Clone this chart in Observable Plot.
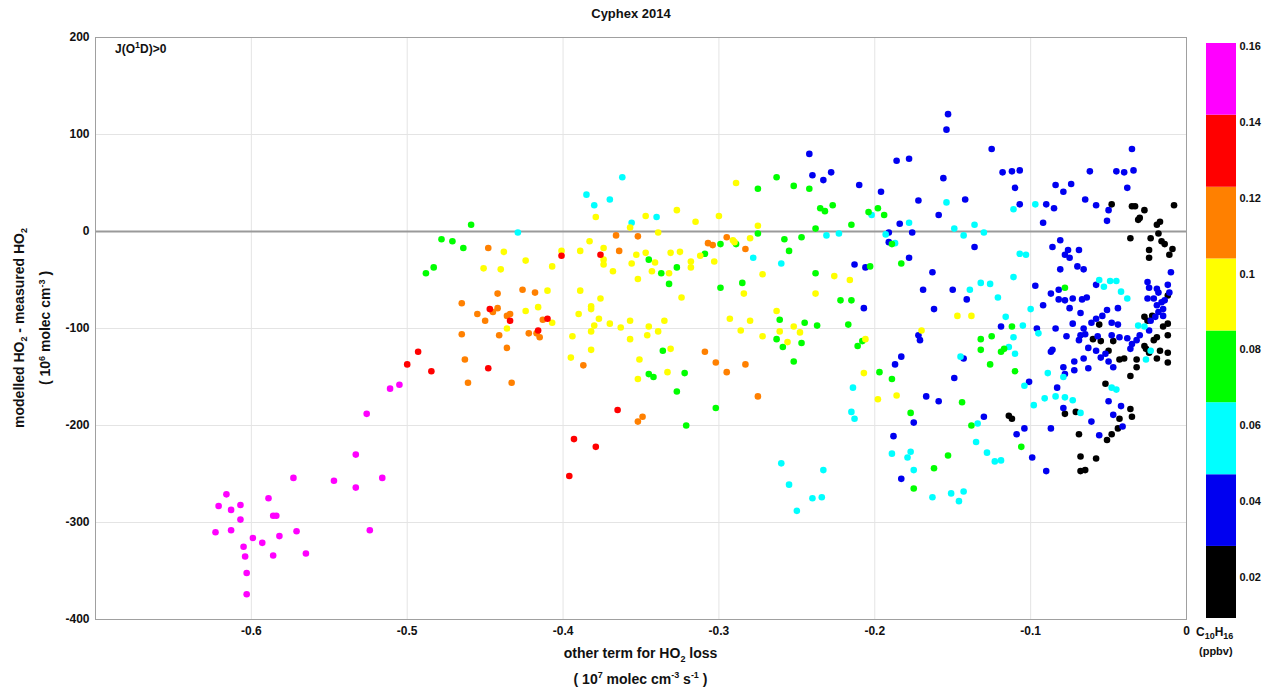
<!DOCTYPE html>
<html><head><meta charset="utf-8">
<script src="https://cdn.jsdelivr.net/npm/d3@7"></script>
<script src="https://cdn.jsdelivr.net/npm/@observablehq/plot@0.6"></script>
<style>
body{margin:0;background:#fff;font-family:"Liberation Sans",Arial,sans-serif;}
#wrap{position:relative;width:1262px;height:690px;overflow:hidden;}
.lbl{position:absolute;font-weight:bold;color:#111;white-space:nowrap;font-size:13px;}
.lbl sub,.lbl sup{font-size:9px;}
svg{overflow:visible}
</style></head><body>
<div id="wrap"></div>
<script>
// ---- data ----
const xTicks = [-0.6,-0.5,-0.4,-0.3,-0.2,-0.1,0];
const yTicks = [-400,-300,-200,-100,0,100,200];
const cbTicks = [0.02,0.04,0.06,0.08,0.1,0.12,0.14,0.16];
const cbDomain = [0.0092,0.1608];
const cbThresholds = [0.0282,0.0471,0.0661,0.0850,0.1040,0.1229,0.1419];
const cbColors = ["#000000","#0000f0","#00ffff","#00ff00","#ffff00","#ff8000","#ff0000","#ff00ff"];
const groupConc = [0.02,0.038,0.057,0.076,0.095,0.113,0.132,0.151];

const blackPts = [[-0.114,-190],[-0.112,-193],
[-0.048,28],[-0.035,26],[-0.033,26],[-0.027,22],[-0.008,27],[-0.031,12],[-0.030,14],[-0.019,7],[-0.017,10],[-0.018,-2],[-0.036,-7],[-0.023,-7],[-0.016,-10],[-0.014,-13],[-0.024,-19],[-0.009,-18],[-0.024,-27],[-0.011,-24],[-0.012,-66],[-0.027,-88],[-0.025,-92],[-0.022,-87],[-0.056,-96],[-0.015,-98],[-0.012,-95],
[-0.060,-111],[-0.055,-113],[-0.047,-113],[-0.050,-123],[-0.043,-132],[-0.040,-131],[-0.032,-132],[-0.032,-140],[-0.036,-149],[-0.027,-118],[-0.026,-121],[-0.024,-125],[-0.021,-112],[-0.019,-131],[-0.017,-123],[-0.012,-125],[-0.012,-135],[-0.012,-107],[-0.019,-109],[-0.052,-157],[-0.078,-188],[-0.071,-186],[-0.036,-183],[-0.035,-191],[-0.043,-193],[-0.044,-203],[-0.048,-209],[-0.051,-215],[-0.069,-209],[-0.068,-232],[-0.058,-234],[-0.068,-247],[-0.065,-246]];

const bluePts = [[-0.242,80],[-0.240,58],[-0.233,53],[-0.228,61],[-0.210,48],[-0.213,-34],
[-0.153,121],[-0.154,105],[-0.125,85],[-0.118,61],[-0.112,62],[-0.107,63],[-0.110,45],[-0.107,28],[-0.186,73],[-0.178,75],[-0.196,41],[-0.172,32],[-0.156,55],[-0.142,33],[-0.159,17],[-0.184,8],[-0.191,-1],[-0.176,-1],[-0.191,-11],[-0.136,-16],[-0.178,-27],[-0.206,-37],[-0.163,-42],[-0.169,-60],[-0.150,-60],[-0.141,-70],[-0.207,-79],[-0.162,-80],[-0.097,-56],[-0.119,-98],[-0.096,-100],
[-0.172,-107],[-0.171,-112],[-0.183,-129],[-0.187,-137],[-0.143,-131],[-0.149,-151],[-0.167,-170],[-0.159,-175],[-0.130,-191],[-0.175,-197],[-0.188,-211],[-0.104,-203],[-0.109,-209],[-0.099,-233],[-0.183,-255],[-0.101,-155],
[-0.084,48],[-0.079,41],[-0.074,49],[-0.090,28],[-0.085,24],[-0.065,33],[-0.058,27],[-0.050,22],[-0.051,11],[-0.092,9],[-0.081,-9],[-0.086,-16],[-0.076,-19],[-0.069,-19],[-0.078,-24],[-0.075,-27],[-0.081,-39],[-0.070,-36],[-0.066,-39],[-0.082,-60],[-0.087,-64],[-0.082,-70],[-0.078,-71],[-0.073,-69],[-0.067,-70],[-0.064,-68],[-0.058,-55],[-0.092,-76],[-0.075,-79],[-0.068,-84],[-0.061,-94],[-0.058,-90],[-0.054,-87],[-0.051,-81],[-0.044,-79],[-0.048,-94],[-0.044,-96],[-0.073,-95],[-0.084,-100],[-0.066,-100],
[-0.025,-52],[-0.024,-58],[-0.019,-59],[-0.018,-63],[-0.012,-55],[-0.011,-63],[-0.010,-42],[-0.025,-69],[-0.021,-69],[-0.019,-76],[-0.016,-73],[-0.014,-71],[-0.015,-80],[-0.018,-83],[-0.015,-87],[-0.020,-88],[-0.023,-92],
[-0.077,-108],[-0.068,-107],[-0.065,-106],[-0.069,-112],[-0.086,-122],[-0.087,-124],[-0.063,-120],[-0.058,-123],[-0.052,-126],[-0.055,-130],[-0.072,-134],[-0.066,-131],[-0.079,-140],[-0.072,-143],[-0.078,-147],[-0.063,-141],[-0.050,-134],[-0.047,-140],[-0.057,-108],[-0.048,-107],[-0.043,-109],[-0.038,-110],[-0.035,-116],[-0.032,-112],[-0.030,-107],[-0.036,-121],[-0.024,-102],[-0.083,-161],[-0.050,-175],[-0.042,-180],[-0.047,-189],[-0.041,-201],[-0.061,-196],[-0.056,-210],[-0.087,-203],[-0.090,-247],[-0.079,-182],
[-0.035,85],[-0.045,62],[-0.040,61],[-0.034,63],[-0.038,45],[-0.062,62]];

const cyanPts = [[-0.429,-1],[-0.385,38],[-0.380,27],[-0.370,33],[-0.362,56],[-0.356,9],
[-0.340,15],[-0.231,-4],[-0.223,-2],[-0.278,-27],[-0.260,-33],
[-0.214,-161],[-0.215,-186],[-0.213,-193],
[-0.260,-239],[-0.255,-261],[-0.250,-288],[-0.240,-275],[-0.234,-274],[-0.233,-246],
[-0.154,30],[-0.111,23],[-0.097,28],[-0.178,9],[-0.202,17],[-0.193,-3],[-0.187,-12],[-0.149,3],[-0.143,-4],[-0.136,7],[-0.130,-1],[-0.107,-23],[-0.103,-24],[-0.111,-47],[-0.132,-53],[-0.126,-54],[-0.139,-60],[-0.121,-68],[-0.100,-80],[-0.116,-88],[-0.105,-97],
[-0.111,-109],[-0.114,-119],[-0.110,-126],[-0.145,-129],[-0.104,-159],[-0.098,-179],[-0.134,-198],[-0.135,-217],[-0.128,-228],[-0.123,-237],[-0.119,-236],[-0.189,-229],[-0.179,-233],[-0.177,-227],[-0.175,-246],[-0.163,-274],[-0.151,-270],[-0.146,-278],[-0.143,-268],
[-0.056,-50],[-0.053,-57],[-0.049,-51],[-0.045,-51],[-0.042,-62],[-0.038,-69],[-0.031,-97],[-0.027,-98],
[-0.095,-105],[-0.089,-146],[-0.079,-150],[-0.091,-172],[-0.084,-170],[-0.078,-171],[-0.073,-174],[-0.068,-187],[-0.048,-161],[-0.045,-163],[-0.023,-123],[-0.026,-132]];

const greenPts = [[-0.459,7],[-0.478,-8],[-0.471,-10],[-0.464,-17],[-0.483,-37],[-0.488,-43],
[-0.263,56],[-0.252,47],[-0.242,44],[-0.275,44],[-0.235,24],[-0.232,21],[-0.227,27],[-0.215,7],[-0.238,3],[-0.275,-2],[-0.258,-8],[-0.247,-6],[-0.255,-20],[-0.299,-13],[-0.289,-13],[-0.309,-23],[-0.345,-29],[-0.337,-43],[-0.327,-37],[-0.332,-54],[-0.299,-58],[-0.285,-53],[-0.238,-43],[-0.222,-71],[-0.215,-71],[-0.261,-91],[-0.245,-94],[-0.237,-97],[-0.217,-96],[-0.263,-111],
[-0.336,-123],[-0.259,-119],[-0.247,-115],[-0.252,-134],[-0.345,-147],[-0.342,-150],[-0.322,-146],[-0.327,-165],[-0.302,-182],[-0.321,-200],[-0.211,-118],
[-0.204,20],[-0.198,24],[-0.194,17],[-0.189,-13],[-0.203,-36],[-0.183,-33],[-0.112,-98],
[-0.208,-113],[-0.132,-111],[-0.125,-108],[-0.132,-122],[-0.119,-124],[-0.117,-121],[-0.126,-137],[-0.110,-144],[-0.197,-145],[-0.189,-152],[-0.144,-176],[-0.177,-187],[-0.138,-200],[-0.106,-222],[-0.153,-231],[-0.162,-244],[-0.175,-265],
[-0.078,-58]];

const yellowPts = [[-0.438,-21],[-0.451,-38],[-0.440,-39],[-0.424,-30],[-0.407,-36],[-0.410,-61],[-0.416,-78],[-0.424,-82],[-0.436,-100],[-0.407,-94],[-0.401,-20],[-0.383,-10],[-0.389,-20],[-0.374,-17],[-0.374,-29],[-0.374,-34],[-0.368,-41],[-0.356,-33],[-0.353,-24],[-0.352,-49],[-0.389,-61],[-0.376,-69],[-0.382,-77],[-0.382,-80],[-0.390,-85],[-0.377,-90],[-0.380,-97],[-0.370,-95],[-0.363,-99],[-0.357,-92],[-0.382,-103],[-0.394,-108],[-0.379,15],[-0.357,4],
[-0.357,-111],[-0.382,-122],[-0.395,-130],[-0.351,-132],[-0.352,-152],
[-0.327,22],[-0.347,16],[-0.315,10],[-0.300,16],[-0.289,50],[-0.275,6],[-0.280,-7],[-0.291,-9],[-0.290,-11],[-0.339,-1],[-0.347,-22],[-0.341,-32],[-0.343,-41],[-0.331,-22],[-0.325,-21],[-0.318,-31],[-0.318,-37],[-0.312,-25],[-0.303,-31],[-0.332,-43],[-0.324,-68],[-0.272,-44],[-0.284,-64],[-0.226,-46],[-0.216,-50],[-0.238,-64],[-0.263,-82],[-0.293,-90],[-0.280,-92],[-0.335,-92],[-0.345,-98],[-0.339,-103],[-0.346,-107],[-0.286,-102],[-0.272,-108],[-0.252,-98],[-0.248,-104],
[-0.261,-103],[-0.256,-114],[-0.331,-121],[-0.333,-145],
[-0.147,-87],[-0.138,-87],[-0.170,-102],
[-0.206,-111],[-0.207,-146],[-0.198,-173],[-0.186,-169]];

const orangePts = [[-0.448,-17],[-0.442,-64],[-0.426,-60],[-0.418,-63],[-0.465,-74],[-0.455,-85],[-0.450,-92],[-0.445,-83],[-0.442,-79],[-0.436,-87],[-0.434,-85],[-0.413,-91],[-0.465,-106],[-0.441,-107],[-0.422,-105],[-0.417,-105],[-0.415,-109],[-0.366,-4],[-0.364,-20],[-0.352,-5],
[-0.463,-132],[-0.461,-156],[-0.436,-120],[-0.433,-156],[-0.387,-138],[-0.352,-196],
[-0.307,-12],[-0.304,-14],[-0.295,-6],[-0.283,-18],
[-0.309,-124],[-0.302,-135],[-0.295,-145],[-0.283,-137],[-0.275,-170],[-0.349,-191]];

const redPts = [[-0.500,-137],[-0.493,-124],[-0.4845,-144],[-0.448,-141],[-0.365,-184],[-0.393,-214],[-0.379,-222],[-0.396,-252],[-0.401,-25],[-0.376,-24],[-0.447,-80],[-0.434,-92],[-0.410,-90],[-0.416,-102]];

const magentaPts = [[-0.616,-271],[-0.621,-283],[-0.613,-287],[-0.607,-282],[-0.607,-297],[-0.623,-310],[-0.613,-308],[-0.589,-275],[-0.586,-293],[-0.584,-293],[-0.573,-254],[-0.547,-257],[-0.533,-230],[-0.533,-264],[-0.516,-254],[-0.524,-308],[-0.571,-309],[-0.582,-314],[-0.599,-316],[-0.593,-321],[-0.605,-325],[-0.604,-335],[-0.586,-334],[-0.565,-332],[-0.603,-352],[-0.603,-374],[-0.526,-188],[-0.511,-162],[-0.505,-158]];

const groupPoints = [blackPts,bluePts,cyanPts,greenPts,yellowPts,orangePts,redPts,magentaPts];

// ---- build table ----
const data = groupPoints.flatMap((pts,i)=>pts.map(([x,y])=>({x,y,c:groupConc[i]})));
const cbBins = d3.range(cbColors.length).map(i=>({
  lo: i===0?cbDomain[0]:cbThresholds[i-1],
  hi: i===cbColors.length-1?cbDomain[1]:cbThresholds[i],
  c: groupConc[i]}));
const colorScale = {type:"threshold", domain:cbThresholds, range:cbColors};

const wrap = document.getElementById("wrap");

const main = Plot.plot({
  width:1262, height:690,
  marginLeft:95, marginRight:76, marginTop:37, marginBottom:71,
  style:{fontFamily:"Liberation Sans, Arial, sans-serif", fontWeight:"bold", fontSize:"12px", color:"#111", background:"transparent"},
  x:{domain:[-0.7,0]},
  y:{domain:[-400,200]},
  color: colorScale,
  marks:[
    Plot.gridX(xTicks,{stroke:"#e4e4e4", strokeOpacity:1}),
    Plot.gridY(yTicks,{stroke:"#e4e4e4", strokeOpacity:1}),
    Plot.ruleY([0],{stroke:"#9a9a9a", strokeWidth:2}),
    Plot.dot(data,{x:"x", y:"y", fill:"c", r:3.3}),
    Plot.frame({stroke:"#a0a0a0"}),
    Plot.axisX(xTicks,{tickSize:0, tickPadding:7, label:null, fontSize:12, fontWeight:"bold",
      tickFormat:d=>d===0?"0":d.toFixed(1)}),
    Plot.axisY(yTicks,{tickSize:0, tickPadding:6, label:null, fontSize:12, fontWeight:"bold",
      tickFormat:d=>d.toFixed(0)})
  ]
});
main.style.position="absolute"; main.style.left="0px"; main.style.top="0px";
wrap.appendChild(main);

const cbar = Plot.plot({
  width:66, height:690,
  marginLeft:10, marginRight:26, marginTop:43, marginBottom:72,
  style:{fontFamily:"Liberation Sans, Arial, sans-serif", fontWeight:"bold", fontSize:"11px", color:"#111", background:"transparent"},
  x:{domain:[0,1], axis:null},
  y:{domain:cbDomain},
  color: colorScale,
  marks:[
    Plot.rect(cbBins,{x1:0, x2:1, y1:"lo", y2:"hi", fill:"c"}),
    Plot.axisY(cbTicks,{anchor:"right", tickSize:0, tickPadding:3, label:null, fontSize:11, fontWeight:"bold",
      tickFormat:d=>String(+d.toFixed(2))})
  ]
});
cbar.style.position="absolute"; cbar.style.left="1196px"; cbar.style.top="0px";
wrap.appendChild(cbar);

function addLabel(html, css){
  const d=document.createElement("div"); d.className="lbl"; d.innerHTML=html;
  Object.assign(d.style, css); wrap.appendChild(d); return d;
}
addLabel("Cyphex 2014",{left:"0px", width:"1262px", textAlign:"center", top:"6px", fontSize:"13px"});
addLabel("J(O<sup>1</sup>D)&gt;0",{left:"115px", top:"40px", fontSize:"12px"});
addLabel("other term for HO<sub>2</sub> loss",{left:"95px", width:"1091px", textAlign:"center", top:"645px", fontSize:"14px"});
addLabel("( 10<sup>7</sup> molec cm<sup>-3</sup> s<sup>-1</sup> )",{left:"95px", width:"1091px", textAlign:"center", top:"670px", fontSize:"14px"});
addLabel("C<sub>10</sub>H<sub>16</sub>",{left:"1196px", top:"625px", fontSize:"12px"});
addLabel("(ppbv)",{left:"1199px", top:"645px", fontSize:"11px"});
// rotated y labels
addLabel("modelled HO<sub>2</sub> - measured HO<sub>2</sub>",{left:"20px", top:"328px", fontSize:"14px", transform:"translate(-50%,-50%) rotate(-90deg)"});
addLabel("( 10<sup>6</sup> molec cm<sup>-3</sup> )",{left:"45px", top:"328px", fontSize:"14px", transform:"translate(-50%,-50%) rotate(-90deg)"});
</script>
</body></html>
